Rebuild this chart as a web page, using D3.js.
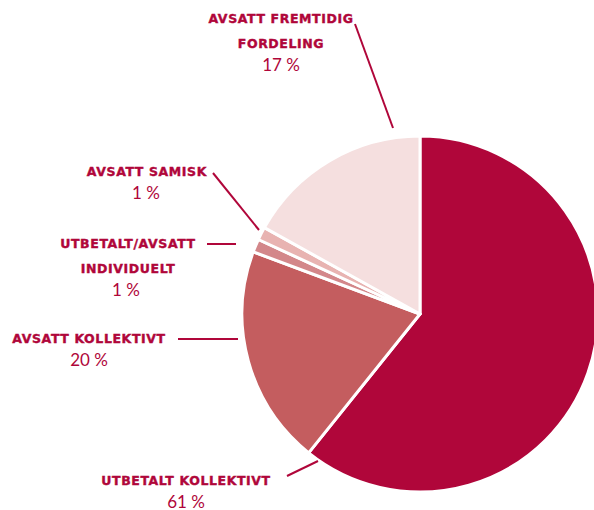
<!DOCTYPE html>
<html>
<head>
<meta charset="utf-8">
<script src="https://cdn.jsdelivr.net/npm/d3@7"></script>
<style>
  body { margin: 0; background: #fff; }
  .lbl { font-family: "DejaVu Sans", sans-serif; font-weight: bold; font-size: 12.5px; letter-spacing: 0.6px; fill: #b0063a; stroke: #b0063a; stroke-width: 0.4px; }
  .pct { font-family: "Lato", "Open Sans", sans-serif; font-weight: 400; font-size: 17px; fill: #b0063a; }
  .lead { stroke: #b0063a; stroke-width: 2; fill: none; }
</style>
</head>
<body>
<svg id="chart" width="594" height="510"></svg>
<script>
// slices, clockwise from 12 o'clock
const categories = [
    ["UTBETALT KOLLEKTIVT"],
    ["AVSATT KOLLEKTIVT"],
    ["UTBETALT/AVSATT", "INDIVIDUELT"],
    ["AVSATT SAMISK"],
    ["AVSATT FREMTIDIG", "FORDELING"]
];
const values = [61, 20, 1.2, 1.2, 17];
const pctLabels = ["61 %", "20 %", "1 %", "1 %", "17 %"];
const colors = ["#b0063a", "#c45d5f", "#d3878a", "#e8b3b1", "#f5dfdf"];

// label layout: text anchor point, alignment, leader line
const labelLayout = [
    { x: 186, y: 485, anchor: "middle", pctX: 186, line: [[287, 476], [318, 461]] },
    { x: 89, y: 343, anchor: "middle", pctX: 89, line: [[178, 339], [238, 339]] },
    { x: 128, y: 248, anchor: "middle", pctX: 126, line: [[207, 244], [236, 244]] },
    { x: 207, y: 176, anchor: "end", pctX: 146, line: [[213, 173], [259, 230]] },
    { x: 281, y: 23, anchor: "middle", pctX: 281, line: [[355, 24], [393, 128]] }
];

const svg = d3.select('#chart');
const cx = 420, cy = 314, radius = 178;

let pie = d3.pie().sort(null).value(d => d);
let arc = d3.arc().innerRadius(0).outerRadius(radius);

let g = svg.append('g').attr('transform', `translate(${cx},${cy})`);
g.selectAll('path')
    .data(pie(values))
    .enter()
    .append('path')
    .attr('d', arc)
    .attr('fill', (d, i) => colors[i])
    .attr('stroke', '#fff')
    .attr('stroke-width', 3)
    .attr('stroke-linejoin', 'round')
;

// labels
categories.forEach((lines, i) => {
    let lay = labelLayout[i];
    let t = svg.append('text')
        .attr('class', 'lbl')
        .attr('text-anchor', lay.anchor)
    ;
    lines.forEach((s, j) => {
        t.append('tspan')
            .attr('x', lay.x)
            .attr('y', lay.y + j * 25)
            .text(s)
        ;
    });
    svg.append('text')
        .attr('class', 'pct')
        .attr('text-anchor', 'middle')
        .attr('x', lay.pctX)
        .attr('y', lay.y + lines.length * 25 - 2)
        .text(pctLabels[i])
    ;
    svg.append('path')
        .attr('class', 'lead')
        .attr('d', d3.line()(lay.line))
    ;
});
</script>
</body>
</html>
